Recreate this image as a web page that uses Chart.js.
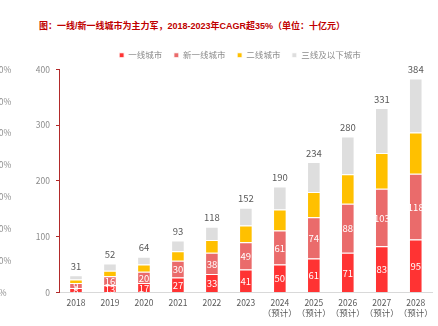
<!DOCTYPE html>
<html>
<head>
<meta charset="utf-8">
<script src="https://cdn.jsdelivr.net/npm/chart.js@4.4.1/dist/chart.umd.min.js"></script>
<style>
  html, body { margin: 0; padding: 0; background: #fff; }
  #wrap { position: relative; width: 438px; height: 326px; overflow: hidden; }
  #title {
    position: absolute; left: 39px; top: 19px;
    font-family: 'Liberation Sans', 'Noto Sans CJK SC', sans-serif;
    font-size: 9px; font-weight: bold; color: #C00000; white-space: nowrap;
  }
  #box { position: absolute; left: -6px; top: 0; width: 444px; height: 326px; }
</style>
</head>
<body>
<div id="wrap">
  <div id="title">图：一线/新一线城市为主力军，2018-2023年CAGR超35%（单位：十亿元）</div>
  <div id="box"><canvas id="my-chart"></canvas></div>
</div>
<script>
//Chart data
let years = ['2018', '2019', '2020', '2021', '2022', '2023', ['2024', '（预计）'], ['2025', '（预计）'], ['2026', '（预计）'], ['2027', '（预计）'], ['2028', '（预计）']];
let tier1 = [8, 13, 17, 27, 33, 41, 50, 61, 71, 83, 95];
let newTier1 = [9, 16, 20, 30, 38, 49, 61, 74, 88, 103, 118];
let tier2 = [6, 10, 13, 17, 23, 30, 38, 45, 53, 64, 74];
let tier3 = [8, 13, 14, 19, 24, 32, 41, 54, 68, 81, 97];
let totals = [31, 52, 64, 93, 118, 152, 190, 234, 280, 331, 384];
let seriesNames = ['一线城市', '新一线城市', '二线城市', '三线及以下城市'];
let pctTicks = [0, 10, 20, 30, 40, 50, 60, 70];

let ctx = document.getElementById('my-chart');
let fontName = "'Noto Sans CJK SC', sans-serif";

//draws numbers inside the bottom two segments and totals on top
let barLabels = {
  id: 'barLabels',
  afterDatasetsDraw(chart) {
    let c = chart.ctx;
    c.save();
    c.textAlign = 'center';
    c.textBaseline = 'middle';
    c.font = '9.5px ' + fontName;
    for (let d = 0; d < 2; d++) {
      let meta = chart.getDatasetMeta(d);
      c.fillStyle = '#ffffff';
      for (let i = 0; i < meta.data.length; i++) {
        let bar = meta.data[i];
        c.fillText(chart.data.datasets[d].data[i], bar.x, (bar.y + bar.base) / 2 + 0.5);
      }
    }
    let topMeta = chart.getDatasetMeta(3);
    c.fillStyle = '#595959';
    for (let i = 0; i < topMeta.data.length; i++) {
      let bar = topMeta.data[i];
      c.fillText(totals[i], bar.x, bar.y - 9);
    }
    c.restore();
  }
};

//nudge the legend a little left of the plot centre
let legendShift = {
  id: 'legendShift',
  afterLayout(chart) {
    chart.legend.left -= 6;
    chart.legend.right -= 6;
  }
};

let chartObject = {
  type: 'bar',
  data: {
    labels: years,
    datasets: [
      { label: seriesNames[0], data: tier1, backgroundColor: '#FF3333' },
      { label: seriesNames[1], data: newTier1, backgroundColor: '#EA6B6B' },
      { label: seriesNames[2], data: tier2, backgroundColor: '#FFC000' },
      { label: seriesNames[3], data: tier3, backgroundColor: '#DEDEDE' }
    ]
  },
  options: {
    responsive: false,
    animation: false,
    datasets: {
      bar: { barPercentage: 0.4, categoryPercentage: 1, borderColor: '#ffffff', borderWidth: 1 }
    },
    layout: { padding: { top: 39.5, right: 2, left: 0, bottom: 3.5 } },
    plugins: {
      tooltip: { enabled: false },
      legend: {
        position: 'top',
        fullSize: false,
        labels: {
          boxWidth: 5,
          boxHeight: 5,
          padding: 11.5,
          color: '#8C8C8C',
          font: { family: fontName, size: 8.5 }
        }
      }
    },
    scales: {
      x: {
        stacked: true,
        grid: { display: false, drawTicks: false },
        border: { color: '#D9D9D9' },
        ticks: {
          color: '#595959',
          padding: 5,
          maxRotation: 0,
          autoSkip: false,
          font: { family: fontName, size: 8.5, lineHeight: 1.18 }
        }
      },
      y: {
        stacked: true,
        min: 0,
        max: 400,
        weight: 0,
        grid: { drawOnChartArea: false, color: '#B22A2A', tickLength: 3 },
        border: { color: '#B22A2A' },
        ticks: { stepSize: 100, color: '#8C8C8C', padding: 6, font: { family: fontName, size: 8.5 } },
        afterFit(scale) { scale.width = 35; }
      },
      yPct: {
        type: 'linear',
        position: 'left',
        min: pctTicks[0],
        max: pctTicks[pctTicks.length - 1],
        weight: 1,
        grid: { display: false },
        border: { display: false },
        ticks: {
          stepSize: 10,
          crossAlign: 'far',
          color: '#8C8C8C',
          font: { family: fontName, size: 8.5 },
          callback: function (v) { return v + '%'; }
        },
        afterFit(scale) { scale.width = 30; }
      }
    }
  },
  plugins: [barLabels, legendShift]
};

ctx.width = 444;
ctx.height = 326;
const myChart = new Chart(ctx, chartObject); //eslint-disable-line
</script>
</body>
</html>
